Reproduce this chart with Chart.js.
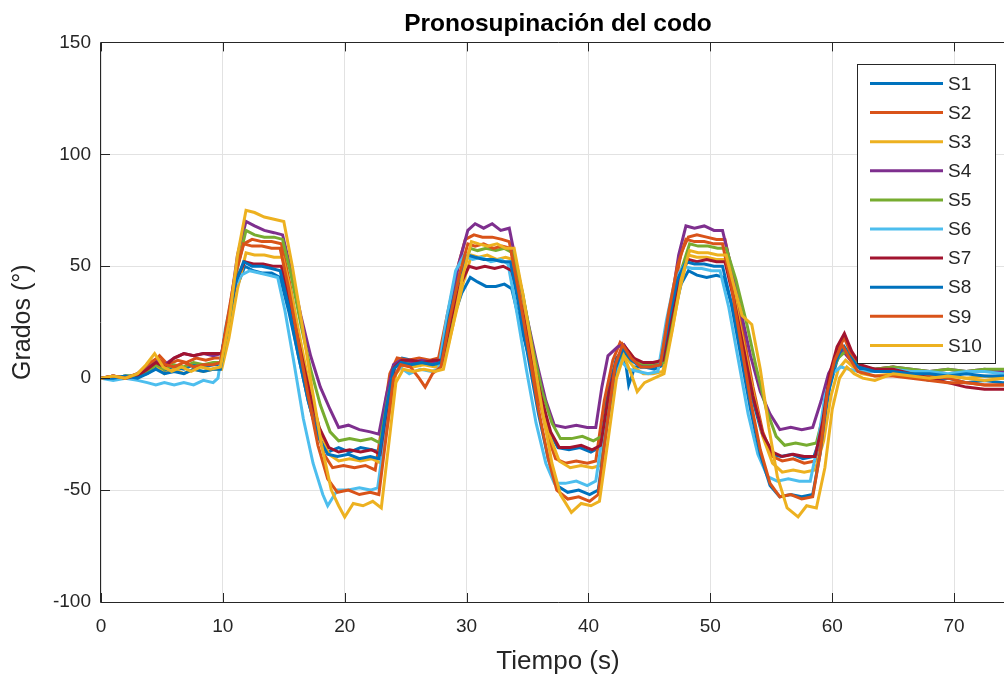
<!DOCTYPE html>
<html>
<head>
<meta charset="utf-8">
<title>Pronosupinación del codo</title>
<script src="https://cdn.jsdelivr.net/npm/chart.js@4"></script>
<style>
  html, body { margin: 0; padding: 0; background: #fff; overflow: hidden; }
  #wrap { width: 1004px; height: 677px; overflow: hidden; }
</style>
</head>
<body>
<div id="wrap"><canvas id="chart" width="1016" height="677"></canvas></div>
<script>
// elbow angle per subject, [time (s), degrees]
const s1 = [[0,0],[1,0],[2,1],[3,1],[3.8,2],[4.6,5],[5.3,3],[6,5],[6.8,4],[7.6,6],[8.4,5],[9.2,6],[9.8,6],[10.4,20],[11.1,40],[11.8,50],[12.5,48],[13.2,47],[14,47],[14.7,45],[15.4,30],[16.2,10],[17,-10],[17.8,-26],[18.6,-33],[19.5,-31],[20.4,-33],[21.3,-31],[22.2,-32],[22.9,-33],[23.5,-12],[24.1,6],[24.7,9],[25.5,8],[26.4,7],[27.3,8],[28,9],[28.8,25],[29.6,38],[30.3,45],[30.9,43],[31.6,41],[32.4,41],[33.1,42],[33.7,40],[34.4,24],[35.2,8],[36,-10],[36.8,-24],[37.5,-31],[38.4,-32],[39.3,-31],[40.2,-33],[40.9,-31],[41.6,-6],[42.3,9],[42.9,13],[43.3,-3],[43.8,5],[44.6,5],[45.4,4],[46.2,6],[46.9,26],[47.6,42],[48.2,48],[48.9,46],[49.7,45],[50.5,46],[51.1,45],[51.8,32],[52.6,12],[53.4,-8],[54.2,-24],[55,-34],[55.8,-35],[56.7,-34],[57.6,-36],[58.5,-35],[59.2,-24],[59.8,-4],[60.4,8],[61,14],[61.6,9],[62.3,4],[63.5,3],[65,3],[66.5,1],[68,-1],[69.5,0],[71,-2],[72.5,-1],[74,-2],[75.5,-2]];
const s2 = [[0,0],[1,1],[2,0],[3,1],[4,5],[4.8,10],[5.5,6],[6.3,8],[7,7],[7.8,9],[8.6,8],[9.3,9],[9.9,9],[10.4,24],[11,45],[11.7,60],[12.4,62],[13.2,61],[14,61],[14.8,60],[15.5,42],[16.2,20],[16.9,0],[17.6,-20],[18.3,-34],[19,-40],[19.9,-39],[20.8,-40],[21.7,-39],[22.5,-41],[23.1,-20],[23.7,2],[24.3,9],[25.2,8],[26.1,9],[27,8],[27.7,9],[28.4,28],[29.2,48],[29.9,62],[30.6,64],[31.3,63],[32.1,63],[32.9,62],[33.5,61],[34.2,42],[35,18],[35.8,-5],[36.6,-25],[37.3,-36],[38.1,-38],[39,-37],[39.9,-38],[40.6,-37],[41.3,-10],[42,8],[42.6,16],[43.3,12],[44,7],[44.8,6],[45.6,6],[46.2,10],[46.9,35],[47.6,56],[48.2,63],[48.9,64],[49.7,63],[50.5,62],[51.2,62],[51.9,44],[52.7,20],[53.5,-4],[54.3,-24],[55.1,-35],[55.9,-37],[56.8,-36],[57.7,-38],[58.6,-37],[59.2,-22],[59.8,0],[60.4,12],[61,18],[61.6,10],[62.3,5],[63.5,4],[65,5],[66.5,3],[68,1],[69.5,0],[71,-2],[72.5,-3],[74,-3],[75.5,-3]];
const s3 = [[0,0],[1,0],[2,1],[3,0],[3.8,3],[4.5,6],[5.2,2],[6,4],[6.8,2],[7.6,4],[8.4,3],[9.2,4],[9.9,4],[10.5,18],[11.2,40],[11.9,56],[12.6,55],[13.4,55],[14.2,54],[14.9,54],[15.6,38],[16.4,16],[17.1,-4],[17.9,-22],[18.7,-34],[19.5,-37],[20.4,-36],[21.3,-37],[22.2,-36],[23,-38],[23.6,-18],[24.2,2],[24.8,6],[25.6,5],[26.5,6],[27.4,5],[28.1,6],[28.9,24],[29.7,42],[30.4,55],[31,54],[31.7,55],[32.5,53],[33.2,54],[33.8,53],[34.5,36],[35.3,14],[36.1,-8],[36.9,-27],[37.6,-37],[38.5,-40],[39.4,-39],[40.3,-40],[41,-39],[41.7,-14],[42.4,4],[43,10],[43.7,5],[44.5,2],[45.3,2],[46.1,3],[46.8,20],[47.5,40],[48.2,55],[48.9,54],[49.7,54],[50.5,53],[51.2,53],[51.9,38],[52.7,16],[53.5,-6],[54.3,-26],[55.1,-38],[55.9,-42],[56.8,-41],[57.7,-42],[58.6,-41],[59.3,-28],[59.9,-8],[60.5,4],[61.1,8],[61.7,5],[62.4,2],[63.5,1],[65,2],[66.5,1],[68,0],[69.5,1],[71,0],[72.5,1],[74,0],[75.5,0]];
const s4 = [[0,0],[1,1],[2,0],[3,2],[3.8,5],[4.5,8],[5.2,6],[6,9],[6.8,11],[7.6,10],[8.4,11],[9.2,10],[9.9,11],[10.5,28],[11.2,55],[11.9,70],[12.6,68],[13.4,66],[14.2,65],[14.9,64],[15.6,48],[16.4,28],[17.2,10],[18,-4],[18.8,-14],[19.5,-22],[20.3,-21],[21.2,-23],[22.1,-24],[22.8,-25],[23.4,-8],[24,6],[24.6,8],[25.4,7],[26.3,8],[27.2,7],[27.9,8],[28.6,30],[29.4,52],[30.1,66],[30.7,69],[31.4,67],[32.1,69],[32.8,66],[33.5,67],[34.2,48],[35,26],[35.8,6],[36.5,-10],[37.2,-21],[38.1,-22],[39,-21],[39.9,-22],[40.6,-22],[41.1,-4],[41.6,10],[42.4,14],[42.9,15],[43.6,9],[44.4,6],[45.2,6],[46,7],[46.7,30],[47.4,55],[48,68],[48.7,67],[49.5,68],[50.3,66],[51,66],[51.7,50],[52.5,30],[53.3,10],[54.1,-6],[54.9,-16],[55.7,-23],[56.6,-22],[57.5,-23],[58.4,-22],[59.1,-10],[59.7,2],[60.3,8],[60.9,12],[61.5,8],[62.2,5],[63.5,4],[65,5],[66.5,4],[68,3],[69.5,4],[71,3],[72.5,4],[74,3],[75.5,3]];
const s5 = [[0,0],[1,0],[2,1],[3,1],[3.8,3],[4.5,6],[5.2,4],[6,6],[6.8,5],[7.6,7],[8.4,6],[9.2,7],[9.9,7],[10.5,26],[11.2,50],[11.9,66],[12.6,64],[13.4,63],[14.2,63],[14.9,62],[15.6,46],[16.4,24],[17.2,4],[18,-12],[18.8,-24],[19.5,-28],[20.4,-27],[21.3,-28],[22.2,-27],[22.9,-29],[23.5,-10],[24.1,5],[24.7,7],[25.5,6],[26.4,7],[27.3,6],[28,7],[28.8,26],[29.6,46],[30.3,58],[30.9,57],[31.6,58],[32.4,57],[33.1,58],[33.8,56],[34.6,38],[35.4,14],[36.2,-6],[37,-20],[37.7,-27],[38.6,-27],[39.5,-26],[40.4,-28],[41.1,-26],[41.8,-4],[42.5,8],[43.1,12],[43.8,8],[44.6,6],[45.4,6],[46.2,7],[46.9,28],[47.6,48],[48.3,60],[49,59],[49.8,59],[50.6,58],[51.3,58],[52.1,44],[53,24],[53.8,4],[54.6,-14],[55.4,-26],[56.1,-30],[57,-29],[57.9,-30],[58.7,-29],[59.3,-16],[59.9,2],[60.5,9],[61.1,12],[61.7,8],[62.4,5],[63.5,4],[65,5],[66.5,4],[68,3],[69.5,4],[71,3],[72.5,4],[74,4],[75.5,4]];
const s6 = [[0,0],[1,-1],[2,0],[3,-1],[3.8,-2],[4.5,-3],[5.2,-2],[6,-3],[6.8,-2],[7.6,-3],[8.4,-1],[9.2,-2],[9.6,0],[10.2,22],[10.9,40],[11.5,46],[12.2,48],[13,47],[13.8,46],[14.5,45],[15.1,30],[15.8,8],[16.6,-18],[17.4,-38],[18.2,-52],[18.6,-57],[19.4,-50],[20.3,-50],[21.2,-49],[22.1,-50],[22.7,-49],[23.3,-25],[23.9,0],[24.5,5],[25.3,2],[26.2,4],[27.1,3],[27.7,4],[28.4,28],[29.1,48],[29.8,55],[30.5,53],[31.2,54],[32,52],[32.8,53],[33.4,51],[34.1,30],[34.9,4],[35.7,-20],[36.5,-38],[37.2,-47],[38.1,-47],[39,-46],[39.9,-48],[40.6,-46],[41.3,-20],[42,0],[42.6,8],[43.3,4],[44.1,3],[44.9,2],[45.7,3],[46.4,26],[47.1,44],[47.8,50],[48.5,49],[49.3,49],[50.1,48],[50.8,48],[51.5,32],[52.3,8],[53.1,-16],[53.9,-34],[54.7,-44],[55.5,-46],[56.4,-45],[57.3,-46],[58.2,-46],[58.8,-30],[59.4,-8],[60,2],[60.7,5],[61.4,4],[62.2,3],[63.5,3],[65,4],[66.5,3],[68,3],[69.5,2],[71,3],[72.5,3],[74,2],[75.5,2]];
const s7 = [[0,0],[1,1],[2,0],[3,1],[3.8,4],[4.5,7],[5.2,5],[6,9],[6.8,11],[7.6,10],[8.4,11],[9.2,11],[9.9,11],[10.4,26],[11.1,44],[11.8,52],[12.5,51],[13.3,51],[14.1,50],[14.8,50],[15.5,34],[16.3,14],[17.1,-6],[17.9,-22],[18.7,-31],[19.5,-33],[20.4,-32],[21.3,-33],[22.2,-32],[22.9,-34],[23.5,-12],[24.1,5],[24.7,8],[25.5,8],[26.4,7],[27.3,8],[28,8],[28.7,26],[29.5,42],[30.2,50],[30.8,49],[31.5,50],[32.3,49],[33,50],[33.7,48],[34.5,32],[35.3,12],[36.1,-8],[36.9,-24],[37.6,-31],[38.5,-31],[39.4,-30],[40.3,-32],[41,-30],[41.7,-6],[42.4,9],[43,14],[43.7,9],[44.5,7],[45.3,7],[46.1,8],[46.8,28],[47.5,46],[48.2,53],[48.9,52],[49.7,53],[50.5,52],[51.2,52],[51.9,36],[52.7,14],[53.5,-8],[54.3,-25],[55.1,-33],[55.9,-35],[56.8,-34],[57.7,-35],[58.6,-35],[59.2,-20],[59.8,2],[60.4,14],[61,20],[61.6,12],[62.3,6],[63.5,4],[65,4],[66.5,2],[68,0],[69.5,-2],[71,-4],[72.5,-5],[74,-5],[75.5,-5]];
const s8 = [[0,0],[1,0],[2,1],[3,0],[3.8,2],[4.5,4],[5.2,2],[6,3],[6.8,2],[7.6,4],[8.4,3],[9.2,4],[9.8,4],[10.3,22],[11,42],[11.7,52],[12.4,50],[13.2,50],[14,49],[14.7,48],[15.4,32],[16.2,10],[17,-10],[17.8,-26],[18.6,-34],[19.4,-35],[20.3,-34],[21.2,-36],[22.1,-35],[22.8,-36],[23.4,-14],[24,4],[24.6,7],[25.4,6],[26.3,7],[27.2,6],[27.9,7],[28.6,28],[29.4,46],[30.1,55],[30.7,54],[31.4,53],[32.2,53],[32.9,52],[33.6,52],[34.3,32],[35.1,8],[35.9,-16],[36.7,-36],[37.4,-48],[38.3,-51],[39.2,-50],[40.1,-52],[40.8,-50],[41.5,-22],[42.2,4],[42.8,13],[43.5,8],[44.3,5],[45.1,5],[45.9,6],[46.6,26],[47.3,44],[48,52],[48.7,51],[49.5,51],[50.3,50],[51,50],[51.7,34],[52.5,10],[53.3,-14],[54.1,-34],[54.9,-48],[55.7,-53],[56.6,-52],[57.5,-53],[58.4,-52],[59,-34],[59.6,-8],[60.2,6],[60.8,14],[61.4,10],[62.1,5],[63.5,3],[65,3],[66.5,2],[68,2],[69.5,1],[71,2],[72.5,1],[74,1],[75.5,1]];
const s9 = [[0,0],[1,1],[2,0],[3,2],[3.8,6],[4.6,9],[5.3,6],[6,5],[6.8,7],[7.6,5],[8.4,6],[9.2,6],[9.8,7],[10.3,24],[11,46],[11.7,60],[12.4,59],[13.2,59],[14,58],[14.7,58],[15.4,40],[16.2,16],[17,-8],[17.8,-30],[18.6,-45],[19.4,-51],[20.3,-50],[21.2,-52],[22.1,-51],[22.8,-52],[23.4,-26],[24,0],[24.6,6],[25.4,5],[26.1,0],[26.6,-4],[27.2,2],[27.9,5],[28.6,26],[29.4,46],[30.1,60],[30.7,59],[31.4,60],[32.2,58],[32.9,59],[33.6,58],[34.3,38],[35.1,12],[35.9,-14],[36.7,-36],[37.4,-50],[38.3,-54],[39.2,-53],[40.1,-55],[40.8,-52],[41.5,-22],[42.2,6],[42.8,15],[43.5,9],[44.3,5],[45.1,5],[45.9,6],[46.6,30],[47.3,50],[48,62],[48.7,61],[49.5,61],[50.3,60],[51,60],[51.7,42],[52.5,16],[53.3,-10],[54.1,-32],[54.9,-47],[55.7,-53],[56.6,-52],[57.5,-54],[58.4,-53],[59,-34],[59.6,-6],[60.2,8],[60.8,15],[61.4,9],[62.1,3],[63.5,1],[65,1],[66.5,0],[68,-1],[69.5,-2],[71,-2],[72.5,-3],[74,-3],[75.5,-3]];
const s10 = [[0,0],[1,1],[2,0],[3,2],[3.7,6],[4.4,11],[5.1,5],[5.8,3],[6.6,5],[7.4,3],[8.2,5],[9,4],[9.8,5],[10.5,25],[11.2,55],[11.9,75],[12.6,74],[13.4,72],[14.2,71],[15,70],[15.7,50],[16.5,24],[17.3,-4],[18.1,-30],[18.9,-50],[19.5,-57],[20,-62],[20.7,-56],[21.5,-57],[22.3,-55],[23,-58],[23.6,-30],[24.2,-2],[24.8,4],[25.6,3],[26.5,4],[27.4,3],[28.1,4],[28.9,24],[29.7,46],[30.4,61],[31,60],[31.7,59],[32.5,60],[33.2,58],[33.9,58],[34.6,38],[35.4,12],[36.2,-14],[37,-38],[37.7,-52],[38.6,-60],[39.4,-56],[40.2,-57],[40.9,-55],[41.6,-28],[42.3,0],[42.9,10],[43.5,2],[44,-6],[44.6,-2],[45.4,0],[46.2,2],[46.9,22],[47.6,44],[48.3,57],[49,56],[49.8,56],[50.6,55],[51.3,55],[51.9,42],[52.6,28],[53.4,24],[54.1,4],[54.8,-22],[55.5,-44],[56.3,-58],[57.2,-62],[57.9,-57],[58.7,-58],[59.4,-40],[60,-14],[60.6,0],[61.2,5],[61.8,2],[62.5,0],[63.5,-1],[65,2],[66.5,1],[68,0],[69.5,1],[71,0],[72.5,-1],[74,0],[75.5,0]];

const seriesNames = ["S1", "S2", "S3", "S4", "S5", "S6", "S7", "S8", "S9", "S10"];
const seriesColors = ["#0072BD", "#D95319", "#EDB120", "#7E2F8E", "#77AC30", "#4DBEEE", "#A2142F", "#0072BD", "#D95319", "#EDB120"];
const allSeries = [s1, s2, s3, s4, s5, s6, s7, s8, s9, s10];

const fontFamily = "'Liberation Sans', Arial, sans-serif";
const ink = "#262626";

const datasets = allSeries.map((pts, i) => ({
	label: seriesNames[i],
	data: pts.map(p => ({ x: p[0], y: p[1] })),
	borderColor: seriesColors[i],
	backgroundColor: seriesColors[i],
	borderWidth: 3,
	pointRadius: 0,
	tension: 0,
	fill: false,
	// later subjects are drawn on top
	order: allSeries.length - i,
}));

// box lines, inward ticks and the legend, drawn over the plot
const axesBox = {
	id: "axesBox",
	afterDraw(chart) {
		const ctx = chart.ctx;
		const { left, right, top, bottom } = chart.chartArea;
		const xs = chart.scales.x;
		const ys = chart.scales.y;
		const tickLen = 9;
		ctx.save();
		ctx.strokeStyle = ink;
		ctx.lineWidth = 1;
		ctx.beginPath();
		ctx.moveTo(right + 5, Math.round(top) + 0.5);
		ctx.lineTo(Math.round(left) - 0.5, Math.round(top) + 0.5);
		ctx.lineTo(Math.round(left) - 0.5, Math.round(bottom) + 0.5);
		ctx.lineTo(right + 5, Math.round(bottom) + 0.5);
		xs.ticks.forEach(t => {
			const px = Math.round(xs.getPixelForValue(t.value)) + 0.5;
			ctx.moveTo(px, bottom);
			ctx.lineTo(px, bottom - tickLen);
			ctx.moveTo(px, top);
			ctx.lineTo(px, top + tickLen);
		});
		ys.ticks.forEach(t => {
			const py = Math.round(ys.getPixelForValue(t.value)) + 0.5;
			ctx.moveTo(left, py);
			ctx.lineTo(left + tickLen, py);
		});
		ctx.stroke();

		// legend
		const lx = 857.5, ly = 64.5, lw = 138, lh = 299;
		ctx.fillStyle = "#ffffff";
		ctx.fillRect(lx, ly, lw, lh);
		ctx.strokeRect(lx, ly, lw, lh);
		ctx.font = "19px " + fontFamily;
		ctx.textBaseline = "middle";
		ctx.textAlign = "left";
		seriesNames.forEach((name, i) => {
			const y = 83.5 + i * 29.1;
			ctx.strokeStyle = seriesColors[i];
			ctx.lineWidth = 3;
			ctx.beginPath();
			ctx.moveTo(870, y);
			ctx.lineTo(943, y);
			ctx.stroke();
			ctx.fillStyle = ink;
			ctx.fillText(name, 948, y + 1);
		});
		ctx.restore();
	},
};

const config = {
	type: "line",
	data: { datasets: datasets },
	options: {
		responsive: false,
		animation: false,
		layout: { padding: { left: 0, right: 1, top: 0, bottom: 0 } },
		scales: {
			x: {
				type: "linear",
				min: 0,
				max: 75,
				afterFit: s => { s.height = 75; },
				border: { display: false },
				grid: { color: "#e2e2e2", drawTicks: false },
				ticks: {
					stepSize: 10,
					includeBounds: false,
					padding: 13,
					maxRotation: 0,
					color: ink,
					font: { family: fontFamily, size: 19 },
				},
				title: {
					display: true,
					text: "Tiempo (s)",
					color: ink,
					font: { family: fontFamily, size: 26 },
					padding: { top: 0, bottom: 0 },
				},
			},
			y: {
				type: "linear",
				min: -100,
				max: 150,
				afterFit: s => { s.width = 101; },
				border: { display: false },
				grid: { color: "#e2e2e2", drawTicks: false },
				ticks: {
					stepSize: 50,
					padding: 10,
					color: ink,
					font: { family: fontFamily, size: 19 },
				},
				title: {
					display: true,
					text: "Grados (°)",
					color: ink,
					font: { family: fontFamily, size: 25 },
					padding: { top: 8, bottom: 0 },
				},
			},
		},
		plugins: {
			legend: { display: false },
			tooltip: { enabled: false },
			title: {
				display: true,
				fullSize: false,
				text: "Pronosupinación del codo",
				color: "#000000",
				font: { family: fontFamily, size: 24.5, weight: "bold" },
				padding: { top: 10, bottom: 3 },
			},
		},
	},
	plugins: [axesBox],
};

const elbowChart = new Chart(document.getElementById("chart"), config);
</script>
</body>
</html>
